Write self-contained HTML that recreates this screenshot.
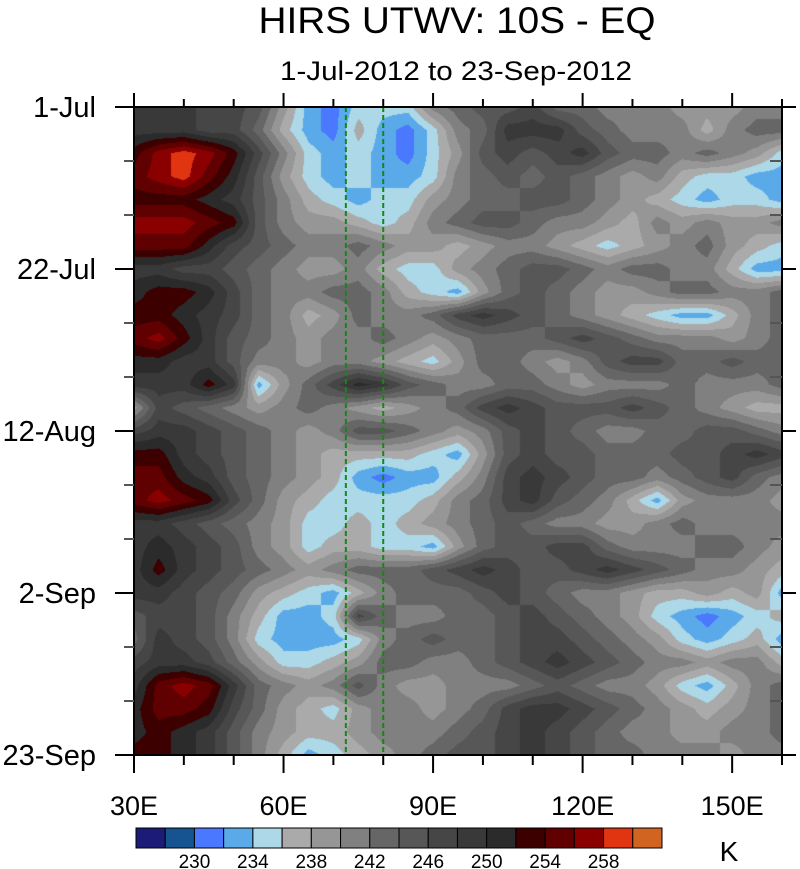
<!DOCTYPE html>
<html><head><meta charset="utf-8">
<style>
html,body{margin:0;padding:0;background:#fff;}
#wrap{position:relative;width:800px;height:869px;overflow:hidden;font-family:"Liberation Sans",sans-serif;}
canvas{position:absolute;left:134px;top:107px;}
svg{position:absolute;left:0;top:0;}
</style></head>
<body>
<div id="wrap">
<canvas id="cv" width="648" height="648"></canvas>
<svg id="sv" width="800" height="869"></svg>
</div>
<script>
// ---- data ----
const lons = [30,35,40,45,50,55,60,65,70,75,80,85,90,95,100,105,110,115,120,125,130,135,140,145,150,155,160];
const days = [0,3,6,9,12,15,18,21,24,27,30,33,36,39,42,45,48,51,54,57,60,63,66,69,72,75,78,81,84];
const r00=[249,249,249,247,247,245,239,233,231,235,235,235,241,243,245,245,247,243,243,241,241,241,239,239,239,241,241];
const r01=[249,249,249,247,247,243,237,233,231,237,233,231,235,241,243,249,249,249,245,243,241,241,241,237,241,243,243];
const r02=[253,257,259,257,253,247,241,235,233,235,233,231,235,239,245,247,245,247,249,245,243,243,241,243,241,239,235];
const r03=[255,257,259,255,251,245,239,235,233,235,233,233,235,241,243,245,243,245,243,241,239,241,237,235,235,233,233];
const r04=[253,253,253,251,249,245,241,237,235,233,235,235,239,241,243,243,245,245,243,241,239,237,235,233,235,235,233];
const r05=[257,257,257,255,253,245,241,239,239,237,235,237,241,243,245,245,243,241,241,239,237,241,239,241,239,239,241];
const r06=[255,255,255,251,247,245,243,241,241,243,241,239,239,237,239,241,241,239,237,235,237,239,241,243,239,237,235];
const r07=[249,249,247,247,245,243,241,239,239,241,237,235,235,239,241,243,245,245,243,241,243,243,241,241,237,233,233];
const r08=[251,253,253,251,247,243,241,241,243,243,241,237,235,233,239,243,245,243,241,239,239,241,243,243,241,241,243];
const r09=[253,253,251,249,247,243,241,237,239,243,241,241,243,247,249,247,245,243,241,239,237,235,233,233,237,241,243];
const r10=[255,257,253,249,245,243,241,239,241,241,243,241,239,241,243,243,243,245,247,245,243,241,241,241,239,241,243];
const r11=[251,251,249,249,245,241,241,239,241,241,239,237,235,239,243,243,241,239,241,245,247,247,243,243,245,243,243];
const r12=[249,249,249,253,249,233,239,243,247,251,249,245,243,241,241,243,243,241,239,241,241,241,243,241,241,241,243];
const r13=[239,247,245,243,241,239,241,243,241,239,237,239,241,243,247,249,247,245,245,245,247,245,243,241,239,237,237];
const r14=[247,249,249,247,245,243,241,239,241,245,245,243,241,239,241,245,247,245,243,241,241,243,243,245,245,243,241];
const r15=[253,253,249,247,245,243,241,239,237,237,237,237,235,233,239,245,247,245,245,243,243,243,245,245,247,249,247];
const r16=[255,255,251,249,245,243,241,239,237,233,231,233,233,237,241,247,249,247,245,243,243,241,243,245,247,243,241];
const r17=[255,257,255,253,247,243,239,237,235,235,235,235,237,241,243,247,249,245,243,241,237,233,239,241,241,241,239];
const r18=[249,249,247,245,243,241,239,235,235,237,235,237,239,241,243,245,243,241,241,239,239,241,243,241,241,241,241];
const r19=[249,251,249,247,245,241,239,235,237,237,235,235,233,239,243,245,245,247,247,243,241,241,241,243,243,241,239];
const r20=[249,253,249,247,245,243,241,239,241,243,243,243,245,247,249,247,245,245,247,249,247,245,243,241,241,239,237];
const r21=[249,249,247,245,243,239,237,235,233,237,241,243,243,243,245,247,245,243,241,241,239,237,237,239,237,239,233];
const r22=[245,247,247,245,241,237,233,233,235,247,243,241,241,243,243,245,247,245,243,241,239,235,233,231,233,235,237];
const r23=[243,249,247,245,241,235,233,233,233,235,241,243,245,243,243,245,247,247,245,243,241,239,235,233,235,237,233];
const r24=[247,249,249,247,243,239,235,235,237,239,243,243,241,241,243,245,247,249,247,245,243,241,241,239,241,241,237];
const r25=[249,255,257,255,249,243,241,239,241,245,241,239,239,241,241,241,243,245,243,241,241,239,235,233,237,241,243];
const r26=[251,255,255,253,247,243,239,237,235,239,241,241,239,241,243,247,249,249,247,245,243,241,239,237,239,241,243];
const r27=[251,253,251,249,245,241,239,237,237,239,241,241,241,243,245,247,249,247,245,243,241,241,239,239,241,241,243];
const r28=[253,253,251,249,245,241,237,233,235,237,239,241,243,245,245,247,249,247,245,243,243,241,241,241,239,241,241];
const values=[r00,r01,r02,r03,r04,r05,r06,r07,r08,r09,r10,r11,r12,r13,r14,r15,r16,r17,r18,r19,r20,r21,r22,r23,r24,r25,r26,r27,r28];
const levels=[228,230,232,234,236,238,240,242,244,246,248,250,252,254,256,258,260];
const colors=["#1c1c78","#155491","#4a78ff","#5aaaea","#acd8e8","#aaaaaa","#969696","#808080","#666666","#575757","#464646","#393939","#2b2b2b","#3c0000","#600000","#8a0000","#e03510","#d06420"];
const xTickLabels=["30E","60E","90E","120E","150E"];
const xTickLons=[30,60,90,120,150];
const yTickLabels=["1-Jul","22-Jul","12-Aug","2-Sep","23-Sep"];
const yTickDays=[0,21,42,63,84];
const cbLabels=["230","234","238","242","246","250","254","258"];
const refLons=[72.5,80];

// ---- axes ----
const PX0=134,PX1=782,PY0=107,PY1=755;
const xs=l=>PX0+(l-30)/(160-30)*(PX1-PX0);
const ys=d=>PY0+d/84*(PY1-PY0);
function colorOf(v){let k=0;while(k<levels.length&&v>=levels[k])k++;return colors[k];}
function hexRGB(h){return [parseInt(h.slice(1,3),16),parseInt(h.slice(3,5),16),parseInt(h.slice(5,7),16)];}

// ---- field ----
const cv=document.getElementById('cv');const ctx=cv.getContext('2d');
const W=648,H=648;const img=ctx.createImageData(W,H);
const rgbCache={};colors.forEach(c=>rgbCache[c]=hexRGB(c));
for(let py=0;py<H;py++){
  const d=(py+0.5)/H*84;
  let j=0;while(j<days.length-2&&d>days[j+1])j++;
  const ty=(d-days[j])/(days[j+1]-days[j]);
  for(let px=0;px<W;px++){
    const l=30+(px+0.5)/W*130;
    let i=0;while(i<lons.length-2&&l>lons[i+1])i++;
    const tx=(l-lons[i])/(lons[i+1]-lons[i]);
    const v=(values[j][i]*(1-tx)+values[j][i+1]*tx)*(1-ty)+(values[j+1][i]*(1-tx)+values[j+1][i+1]*tx)*ty;
    const c=rgbCache[colorOf(v)];const o=(py*W+px)*4;
    img.data[o]=c[0];img.data[o+1]=c[1];img.data[o+2]=c[2];img.data[o+3]=255;
  }
}
ctx.putImageData(img,0,0);

// ---- svg overlay ----
const NS="http://www.w3.org/2000/svg";const sv=document.getElementById('sv');
function mk(tag,attrs,parent){const e=document.createElementNS(NS,tag);for(const k in attrs)e.setAttribute(k,attrs[k]);(parent||sv).appendChild(e);return e;}
refLons.forEach(l=>{
  const e=mk('line',{x1:xs(l),x2:xs(l),y1:PY0,y2:PY1,stroke:'#118a11','stroke-width':2,'stroke-dasharray':'5,3'});
  
  
});
const fr=mk('rect',{x:PX0,y:PY0,width:PX1-PX0,height:PY1-PY0,fill:'none',stroke:'#000','stroke-width':2});


for(let l=30;l<=160;l+=10){
  const major=(l-30)%30===0;const x=xs(l);
  mk('line',{x1:x,x2:x,y1:PY1,y2:PY1+(major?18:10),stroke:'#000','stroke-width':2});
  mk('line',{x1:x,x2:x,y1:PY0,y2:PY0-(major?14:8),stroke:'#000','stroke-width':2});
}
for(let d=0;d<=84;d+=7){
  const major=d%21===0;const y=ys(d);
  mk('line',{x1:PX0,x2:PX0-(major?19:10),y1:y,y2:y,stroke:major?'#000':'#555','stroke-width':2});
  if(major) mk('line',{x1:PX1,x2:PX1+14,y1:y,y2:y,stroke:'#000','stroke-width':2});
  else mk('line',{x1:PX1,x2:PX1-12,y1:y,y2:y,stroke:'#555','stroke-width':2});
}
xTickLabels.forEach((t,i)=>{
  const e=mk('text',{x:xs(xTickLons[i]),y:815,'text-anchor':'middle','font-size':27,fill:'#000'});e.textContent=t;
  
  
});
yTickLabels.forEach((t,i)=>{
  const e=mk('text',{x:96,y:ys(yTickDays[i])+10,'text-anchor':'end','font-size':29,fill:'#000'});e.textContent=t;
  
  
});
const CB0=136,CB1=662,CBY=828,CBH=20,bw=(CB1-CB0)/colors.length;
const cb=mk('g',{});


colors.forEach((c,i)=>{mk('rect',{x:CB0+i*bw,y:CBY,width:bw,height:CBH,fill:c,stroke:'#000','stroke-width':1},cb);});
cbLabels.forEach((t,i)=>{
  const e=mk('text',{x:CB0+(2+2*i)*bw,y:868,'text-anchor':'middle','font-size':19,fill:'#000'},cb);e.textContent=t;
  
  
});
</script>
<svg width="800" height="869" style="position:absolute;left:0;top:0;pointer-events:none">
<text x="457" y="33" text-anchor="middle" font-size="37" textLength="397" lengthAdjust="spacingAndGlyphs" font-family="Liberation Sans, sans-serif">HIRS UTWV: 10S - EQ</text>
<text x="456" y="80" text-anchor="middle" font-size="27" textLength="352" lengthAdjust="spacingAndGlyphs" font-family="Liberation Sans, sans-serif">1-Jul-2012 to 23-Sep-2012</text>
<text x="729" y="861" text-anchor="middle" font-size="28" font-family="Liberation Sans, sans-serif">K</text>
</svg>
</body></html>
